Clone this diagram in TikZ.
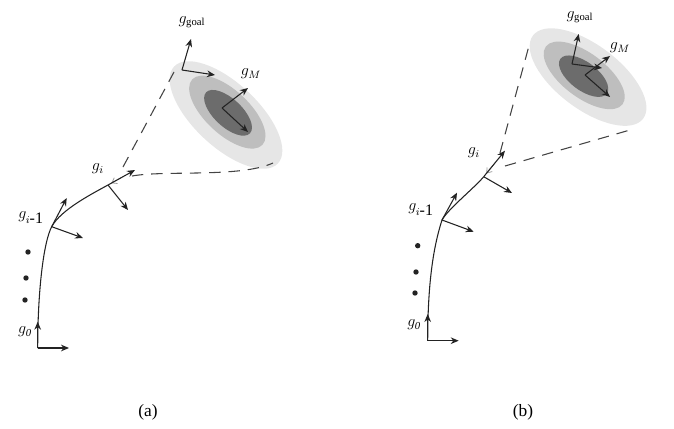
\documentclass[tikz,border=0pt]{standalone}
\usepackage{fontspec}
\setmainfont{Liberation Serif}
\usetikzlibrary{arrows.meta,calc}
\definecolor{ink}{RGB}{35,35,35}
\definecolor{covA}{RGB}{230,230,230}
\definecolor{covB}{RGB}{190,190,190}
\definecolor{covC}{RGB}{108,108,108}
\tikzset{
  axis/.style={draw=ink, line width=0.8pt, -{Stealth[length=6pt,width=5pt]}},
  traj/.style={draw=ink, line width=0.8pt},
  guess/.style={draw=ink!85, line width=0.8pt, dash pattern=on 8.5pt off 6pt},
  ghost/.style={draw=gray!75, line width=0.6pt, -{Straight Barb[length=3.5pt,width=5pt]}},
  lbl/.style={font=\fontsize{12}{14}\selectfont, inner sep=0pt},
  capt/.style={font=\fontsize{13}{15}\selectfont, inner sep=0pt},
  dotpt/.style={fill=ink}
}
\begin{document}
\begin{tikzpicture}[x=0.75pt,y=-0.75pt]
  \useasboundingbox (0,0) rectangle (674,428);
  % ---------- (a) ----------
  \coordinate (eA) at (226,115);
  \fill[covA, rotate around={-43:(eA)}] (eA) ellipse [x radius=71, y radius=32];
  \fill[covB, rotate around={-43:(eA)}] (225,112) ellipse [x radius=48, y radius=22];
  \fill[covC, rotate around={-43:(eA)}] (226,112) ellipse [x radius=30, y radius=14];
  \coordinate (g0A) at (37.7,348);
  \coordinate (gpA) at (51.7,226.7);
  \coordinate (giA) at (108,185);
  \coordinate (gaA) at (182,70);
  \coordinate (gmA) at (222,108);
  \coordinate (tiA) at (135,170);
  \draw[traj] (g0A) .. controls (37.7,290) and (43.7,241.7) .. (gpA)
    .. controls (60.7,209.7) and (93,193.3) .. (giA);
  \draw[guess] (123,167) -- (174,72);
  \draw[guess] (132,176) .. controls (165,170) and (240,178) .. (273,163);
  \draw[ghost] ($(giA)!0.5!(tiA)$) -- ($(giA)!0.12!(tiA)$);
  \draw[axis] (g0A) -- (69,348);
  \draw[axis] (g0A) -- (37.7,321.7);
  \draw[axis] (gpA) -- (66.7,198);
  \draw[axis] (gpA) -- (83,238);
  \draw[axis] (giA) -- (tiA);
  \draw[axis] (giA) -- (128,210);
  \draw[axis] (gaA) -- (191,39);
  \draw[axis] (gaA) -- (215,75);
  \draw[axis] (gmA) -- (248,88);
  \draw[axis] (gmA) -- (248,132);
  \foreach \p in {(28,252),(26,278),(25,300)}
    \fill[dotpt] \p circle[radius=2.7];
  \node[lbl] (LaA) at (192,22) {$g_{\mathrm{goal}}$};
  \node[lbl] (LmA) at (251,74) {$g_M$};
  \node[lbl] (LiA) at (98,169) {$g_i$};
  \node[lbl] (LpA) at (31,218) {$g_{i\textrm{-1}}$};
  \node[lbl] (L0A) at (25,332) {$g_{\mathit{0}}$};
  \node[capt] (capA) at (148,412) {(a)};
  % ---------- (b) ----------
  \coordinate (eB) at (588,77);
  \fill[covA, rotate around={-37:(eB)}] (eB) ellipse [x radius=69, y radius=32];
  \fill[covB, rotate around={-37:(eB)}] (584,78) ellipse [x radius=48, y radius=22];
  \fill[covC, rotate around={-37:(eB)}] (584,79) ellipse [x radius=29, y radius=14];
  \coordinate (g0B) at (427.7,340.7);
  \coordinate (gpB) at (442,220);
  \coordinate (giB) at (483.7,176.7);
  \coordinate (gaB) at (572,64);
  \coordinate (gmB) at (585,75);
  \coordinate (tiB) at (505,150.7);
  \draw[traj] (g0B) .. controls (427.7,280) and (434,245) .. (gpB)
    .. controls (448,209) and (475.7,186.7) .. (giB);
  \draw[guess] (500,153) -- (530,42);
  \draw[guess] (505,166) -- (630,130);
  \draw[ghost] ($(giB)!0.5!(tiB)$) -- ($(giB)!0.12!(tiB)$);
  \draw[axis] (g0B) -- (458.7,340.7);
  \draw[axis] (g0B) -- (427.7,314);
  \draw[axis] (gpB) -- (457,192.7);
  \draw[axis] (gpB) -- (473.7,231.7);
  \draw[axis] (giB) -- (tiB);
  \draw[axis] (giB) -- (512,193);
  \draw[axis] (gaB) -- (578.7,34);
  \draw[axis] (gaB) -- (602,68);
  \draw[axis] (gmB) -- (610,56);
  \draw[axis] (gmB) -- (610,97);
  \foreach \p in {(417.7,245.7),(416,272),(415,293)}
    \fill[dotpt] \p circle[radius=2.7];
  \node[lbl] (LaB) at (580,17) {$g_{\mathrm{goal}}$};
  \node[lbl] (LmB) at (620,48) {$g_M$};
  \node[lbl] (LiB) at (474,153) {$g_i$};
  \node[lbl] (LpB) at (421,210) {$g_{i\textrm{-1}}$};
  \node[lbl] (L0B) at (414,325) {$g_{\mathit{0}}$};
  \node[capt] (capB) at (523,412) {(b)};
\end{tikzpicture}
\end{document}
